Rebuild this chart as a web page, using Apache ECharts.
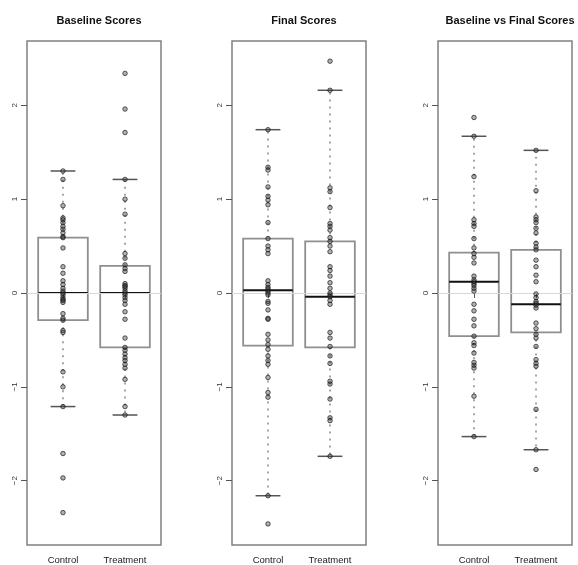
<!DOCTYPE html>
<html>
<head>
<meta charset="utf-8">
<script src="https://cdn.jsdelivr.net/npm/echarts@6/dist/echarts.min.js"></script>
<style>html,body{margin:0;padding:0;background:#fff}#c{width:578px;height:565px}</style>
</head>
<body>
<div id="c"></div>
<script>
// ---- data ----
const categories = ['Control', 'Treatment'];
const panelTitles = ['Baseline Scores', 'Final Scores', 'Baseline vs Final Scores'];
const yTicks = [-2, -1, 0, 1, 2];

// box stats: [lower whisker, Q1, median, Q3, upper whisker]
const baselineBoxes = [[-1.21, -0.29, 0.00, 0.59, 1.30], [-1.30, -0.58, 0.00, 0.29, 1.21]];
const finalBoxes    = [[-2.16, -0.56, 0.03, 0.58, 1.74], [-1.74, -0.58, -0.04, 0.55, 2.16]];
const changeBoxes   = [[-1.53, -0.46, 0.12, 0.43, 1.67], [-1.67, -0.42, -0.12, 0.46, 1.52]];

const baselineControl = [1.30, 1.21, 0.93, 0.80, 0.78, 0.75, 0.71, 0.68, 0.64, 0.60, 0.59, 0.48, 0.28, 0.21, 0.13, 0.09, 0.05, 0.02, 0.00, -0.02, -0.05, -0.07, -0.08, -0.10, -0.22, -0.27, -0.29, -0.40, -0.42, -0.84, -1.00, -1.21, -1.71, -1.97, -2.34];
const baselineTreatment = [2.34, 1.96, 1.71, 1.21, 1.00, 0.84, 0.42, 0.37, 0.30, 0.26, 0.23, 0.10, 0.08, 0.07, 0.05, 0.02, 0.00, -0.02, -0.05, -0.08, -0.12, -0.20, -0.28, -0.48, -0.58, -0.61, -0.65, -0.69, -0.72, -0.76, -0.80, -0.92, -1.21, -1.30];
const finalControl = [1.74, 1.34, 1.31, 1.13, 1.03, 0.99, 0.94, 0.75, 0.58, 0.50, 0.46, 0.42, 0.13, 0.09, 0.06, 0.04, 0.02, 0.00, -0.02, -0.09, -0.11, -0.18, -0.27, -0.28, -0.44, -0.50, -0.55, -0.60, -0.67, -0.72, -0.76, -0.90, -1.06, -1.11, -2.16, -2.46];
const finalTreatment = [2.47, 2.16, 1.12, 1.08, 0.91, 0.74, 0.71, 0.67, 0.59, 0.55, 0.50, 0.44, 0.28, 0.24, 0.18, 0.11, 0.05, 0.00, -0.02, -0.04, -0.08, -0.12, -0.42, -0.48, -0.57, -0.67, -0.75, -0.94, -0.97, -1.13, -1.33, -1.36, -1.74];
const changeControl = [1.87, 1.67, 1.24, 0.78, 0.74, 0.71, 0.58, 0.48, 0.42, 0.38, 0.32, 0.18, 0.14, 0.12, 0.10, 0.08, 0.05, 0.02, -0.12, -0.19, -0.28, -0.35, -0.46, -0.53, -0.56, -0.64, -0.74, -0.77, -0.80, -1.10, -1.53];
const changeTreatment = [1.52, 1.09, 0.81, 0.78, 0.75, 0.69, 0.64, 0.53, 0.49, 0.46, 0.35, 0.28, 0.19, 0.12, -0.01, -0.05, -0.09, -0.11, -0.13, -0.16, -0.32, -0.38, -0.44, -0.48, -0.57, -0.71, -0.75, -0.78, -1.24, -1.67, -1.88];

const panels = [
  { boxes: baselineBoxes, points: [baselineControl, baselineTreatment] },
  { boxes: finalBoxes, points: [finalControl, finalTreatment] },
  { boxes: changeBoxes, points: [changeControl, changeTreatment] }
];

// ---- layout ----
const gridLefts = [27, 232, 438];
const gridW = 134, gridTop = 41, gridH = 507;
const FONT = '"Liberation Sans", Arial, sans-serif';

const grids = [], xAxes = [], yAxes = [], series = [], titles = [];
panels.forEach((p, gi) => {
  grids.push({ left: gridLefts[gi], top: gridTop, width: gridW, height: gridH, show: true, borderColor: '#808080', borderWidth: 1.5, backgroundColor: 'transparent', containLabel: false });
  titles.push({ text: panelTitles[gi], left: gridLefts[gi] + gridW / 2, top: 10, textAlign: 'center',
    textStyle: { fontFamily: FONT, fontSize: 11, fontWeight: 'bold', color: '#111' } });
  xAxes.push({ gridIndex: gi, type: 'value', min: 0.42, max: 2.58,
    axisLine: { show: false }, splitLine: { show: false },
    axisTick: { show: true, length: 5, customValues: [1, 2], lineStyle: { color: '#555', width: 1 } },
    axisLabel: { show: true, customValues: [1, 2], margin: 10, fontFamily: FONT, fontSize: 9.5, color: '#222',
      formatter: v => categories[Math.round(v) - 1] || '' } });
  yAxes.push({ gridIndex: gi, type: 'value', min: -2.685, max: 2.685,
    axisLine: { show: false }, splitLine: { show: false },
    axisTick: { show: true, length: 6, customValues: yTicks, lineStyle: { color: '#555', width: 1 } },
    axisLabel: { show: true, customValues: yTicks, rotate: 90, margin: 8, fontFamily: FONT, fontSize: 8, color: '#333',
      formatter: v => (v < 0 ? '\u2212' + Math.abs(v) : String(v)) } });

  series.push({
    type: 'custom', xAxisIndex: gi, yAxisIndex: gi, z: 1, silent: true,
    data: p.boxes.map((b, i) => [i + 1].concat(b)),
    renderItem: (params, api) => {
      const x = api.value(0);
      const lo = api.coord([x, api.value(1)]);
      const q1 = api.coord([x, api.value(2)]);
      const md = api.coord([x, api.value(3)]);
      const q3 = api.coord([x, api.value(4)]);
      const hi = api.coord([x, api.value(5)]);
      const bw = api.size([0.8, 0])[0];
      const cw = api.size([0.4, 0])[0];
      const cx = md[0];
      const dash = { stroke: '#8a8a8a', lineWidth: 1.5, lineDash: [2, 5] };
      const cap = { stroke: '#555', lineWidth: 1.5 };
      return { type: 'group', children: [
        { type: 'line', shape: { x1: cx, y1: q3[1], x2: cx, y2: hi[1] }, style: dash },
        { type: 'line', shape: { x1: cx, y1: q1[1], x2: cx, y2: lo[1] }, style: dash },
        { type: 'line', shape: { x1: cx - cw / 2, y1: hi[1], x2: cx + cw / 2, y2: hi[1] }, style: cap },
        { type: 'line', shape: { x1: cx - cw / 2, y1: lo[1], x2: cx + cw / 2, y2: lo[1] }, style: cap },
        { type: 'rect', shape: { x: cx - bw / 2, y: q3[1], width: bw, height: q1[1] - q3[1] }, style: { fill: 'rgba(255,255,255,0)', stroke: '#8f8f8f', lineWidth: 1.8 } },
        { type: 'line', shape: { x1: cx - bw / 2, y1: md[1], x2: cx + bw / 2, y2: md[1] }, style: { stroke: '#111', lineWidth: 2 } }
      ] };
    }
  });

  p.points.forEach((arr, ci) => {
    const s = {
      type: 'scatter', xAxisIndex: gi, yAxisIndex: gi, z: 3, silent: true,
      symbol: 'circle', symbolSize: 4.5,
      itemStyle: { color: 'rgba(60,60,60,0.5)', borderColor: 'rgba(20,20,20,0.85)', borderWidth: 1 },
      data: arr.map(v => [ci + 1, v])
    };
    if (ci === 0) {
      s.markLine = { silent: true, symbol: ['none', 'none'], label: { show: false }, animation: false,
        lineStyle: { color: '#d8d8d8', type: 'solid', width: 1 }, data: [{ yAxis: 0 }], z: 2 };
    }
    series.push(s);
  });
});

const chart = echarts.init(document.getElementById('c'), null, { renderer: 'canvas' });
chart.setOption({
  animation: false,
  backgroundColor: '#fff',
  title: titles,
  grid: grids,
  xAxis: xAxes,
  yAxis: yAxes,
  series: series
});
</script>
</body>
</html>
